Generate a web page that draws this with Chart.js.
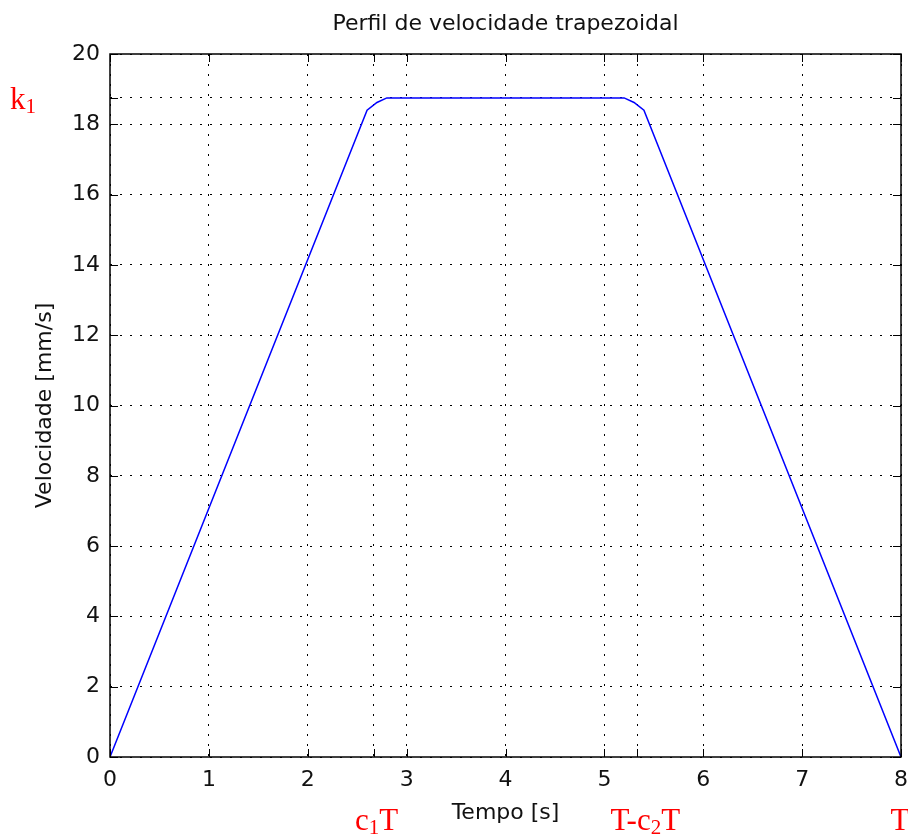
<!DOCTYPE html>
<html><head><meta charset="utf-8">
<style>html,body{margin:0;padding:0;background:#fff;}#wrap{width:908px;height:837px;}</style>
<script src="https://cdn.jsdelivr.net/npm/chart.js@4"></script>
</head><body><div id="wrap"><canvas id="c" width="908" height="837"></canvas></div>
<script>
const chartTitle = 'Perfil de velocidade trapezoidal';
const xAxisTitle = 'Tempo [s]';
const yAxisTitle = 'Velocidade [mm/s]';
const timeValues = [0, 2.6, 2.7, 2.8, 5.2, 5.3, 5.4, 8];
const velocityValues = [0, 18.4, 18.62, 18.75, 18.75, 18.62, 18.4, 0];
const xTickValues = [0, 1, 2, 2.667, 3, 4, 5, 5.333, 6, 7, 8];
const yTickValues = [0, 2, 4, 6, 8, 10, 12, 14, 16, 18, 18.75, 20];
const xMarkerValues = [2.667, 5.333, 8];
const xMarkerTexts = [['c', '1', 'T'], ['T-c', '2', 'T'], ['T', '', '']];
const yMarkerValues = [18.75];
const yMarkerTexts = [['k', '1', '']];

const FONT = 'DejaVu Sans';
const MAIN_FONT = '31px "Liberation Serif", "Times New Roman", serif';
const SUB_FONT = '21px "Liberation Serif", "Times New Roman", serif';

function drawRich(ctx, parts, x, baseline, align) {
  ctx.font = MAIN_FONT;
  const w0 = ctx.measureText(parts[0]).width;
  const w2 = ctx.measureText(parts[2]).width;
  ctx.font = SUB_FONT;
  const w1 = ctx.measureText(parts[1]).width;
  const total = w0 + w1 + w2;
  let sx = align === 'center' ? x - total / 2 : x;
  ctx.textAlign = 'left';
  ctx.textBaseline = 'alphabetic';
  ctx.fillStyle = '#ff0000';
  ctx.font = MAIN_FONT;
  ctx.fillText(parts[0], sx, baseline);
  ctx.font = SUB_FONT;
  ctx.fillText(parts[1], sx + w0, baseline + 4);
  ctx.font = MAIN_FONT;
  ctx.fillText(parts[2], sx + w0 + w1, baseline);
}

const framePlugin = {
  id: 'frame',
  afterDatasetsDraw(chart) {
    const {ctx, chartArea: a, scales: {x, y}} = chart;
    ctx.save();
    ctx.strokeStyle = '#000';
    ctx.lineWidth = 1;
    ctx.setLineDash([]);
    const tl = 8;
    ctx.beginPath();
    x.ticks.forEach(t => {
      const px = Math.round(x.getPixelForValue(t.value)) + 0.5;
      ctx.moveTo(px, a.bottom); ctx.lineTo(px, a.bottom - tl);
      ctx.moveTo(px, a.top); ctx.lineTo(px, a.top + tl);
    });
    y.ticks.forEach(t => {
      const py = Math.round(y.getPixelForValue(t.value)) + 0.5;
      ctx.moveTo(a.left, py); ctx.lineTo(a.left + tl, py);
      ctx.moveTo(a.right, py); ctx.lineTo(a.right - tl, py);
    });
    ctx.stroke();
    ctx.lineWidth = 1.5;
    ctx.strokeRect(a.left, a.top, a.right - a.left, a.bottom - a.top);
    ctx.restore();
  },
  afterDraw(chart) {
    const {ctx, chartArea: a, scales: {x, y}} = chart;
    ctx.save();
    // title centred over the plot area
    ctx.fillStyle = '#111';
    ctx.font = '22px "' + FONT + '"';
    ctx.textAlign = 'center';
    ctx.textBaseline = 'middle';
    ctx.fillText(chartTitle, (a.left + a.right) / 2, 24);
    const xOffsets = [3, 8, -1];
    xMarkerValues.forEach((v, i) => {
      drawRich(ctx, xMarkerTexts[i], x.getPixelForValue(v) + xOffsets[i], 830, 'center');
    });
    yMarkerValues.forEach((v, i) => {
      drawRich(ctx, yMarkerTexts[i], 10, y.getPixelForValue(v) + 11, 'left');
    });
    ctx.restore();
  }
};

const gridCommon = {
  color: '#000',
  lineWidth: 1,
  drawTicks: false
};

new Chart(document.getElementById('c'), {
  type: 'line',
  data: {
    datasets: [{
      data: timeValues.map((t, i) => ({x: t, y: velocityValues[i]})),
      borderColor: '#0000ff',
      borderWidth: 1.5,
      pointRadius: 0,
      tension: 0,
      fill: false
    }]
  },
  options: {
    responsive: false,
    devicePixelRatio: 1,
    animation: false,
    layout: {padding: {left: 0, right: 7, top: 54, bottom: 0}},
    plugins: {
      legend: {display: false},
      tooltip: {enabled: false},
      title: {display: false}
    },
    scales: {
      x: {
        type: 'linear', min: 0, max: 8,
        afterBuildTicks: s => { s.ticks = xTickValues.map(v => ({value: v})); },
        afterFit: s => { s.height = 80; s.paddingRight = 0; s.paddingLeft = 0; },
        grid: gridCommon,
        border: {display: false, dash: [2, 8]},
        ticks: {
          autoSkip: false, maxRotation: 0, padding: 10, color: '#111',
          font: {family: FONT, size: 22},
          callback: v => Number.isInteger(v) ? String(v) : ''
        },
        title: {
          display: true, text: xAxisTitle, color: '#111',
          font: {family: FONT, size: 22},
          padding: {top: 0, bottom: 11}
        }
      },
      y: {
        type: 'linear', min: 0, max: 20,
        afterBuildTicks: s => { s.ticks = yTickValues.map(v => ({value: v})); },
        afterFit: s => { s.width = 110; s.paddingTop = 0; s.paddingBottom = 0; },
        grid: gridCommon,
        border: {display: false, dash: [2, 8]},
        ticks: {
          autoSkip: false, padding: 10, color: '#111',
          font: {family: FONT, size: 22},
          callback: v => Number.isInteger(v) ? String(v) : ''
        },
        title: {
          display: true, text: yAxisTitle, color: '#111',
          font: {family: FONT, size: 22},
          padding: {top: 32, bottom: 0}
        }
      }
    }
  },
  plugins: [framePlugin]
});
</script>
</body></html>
